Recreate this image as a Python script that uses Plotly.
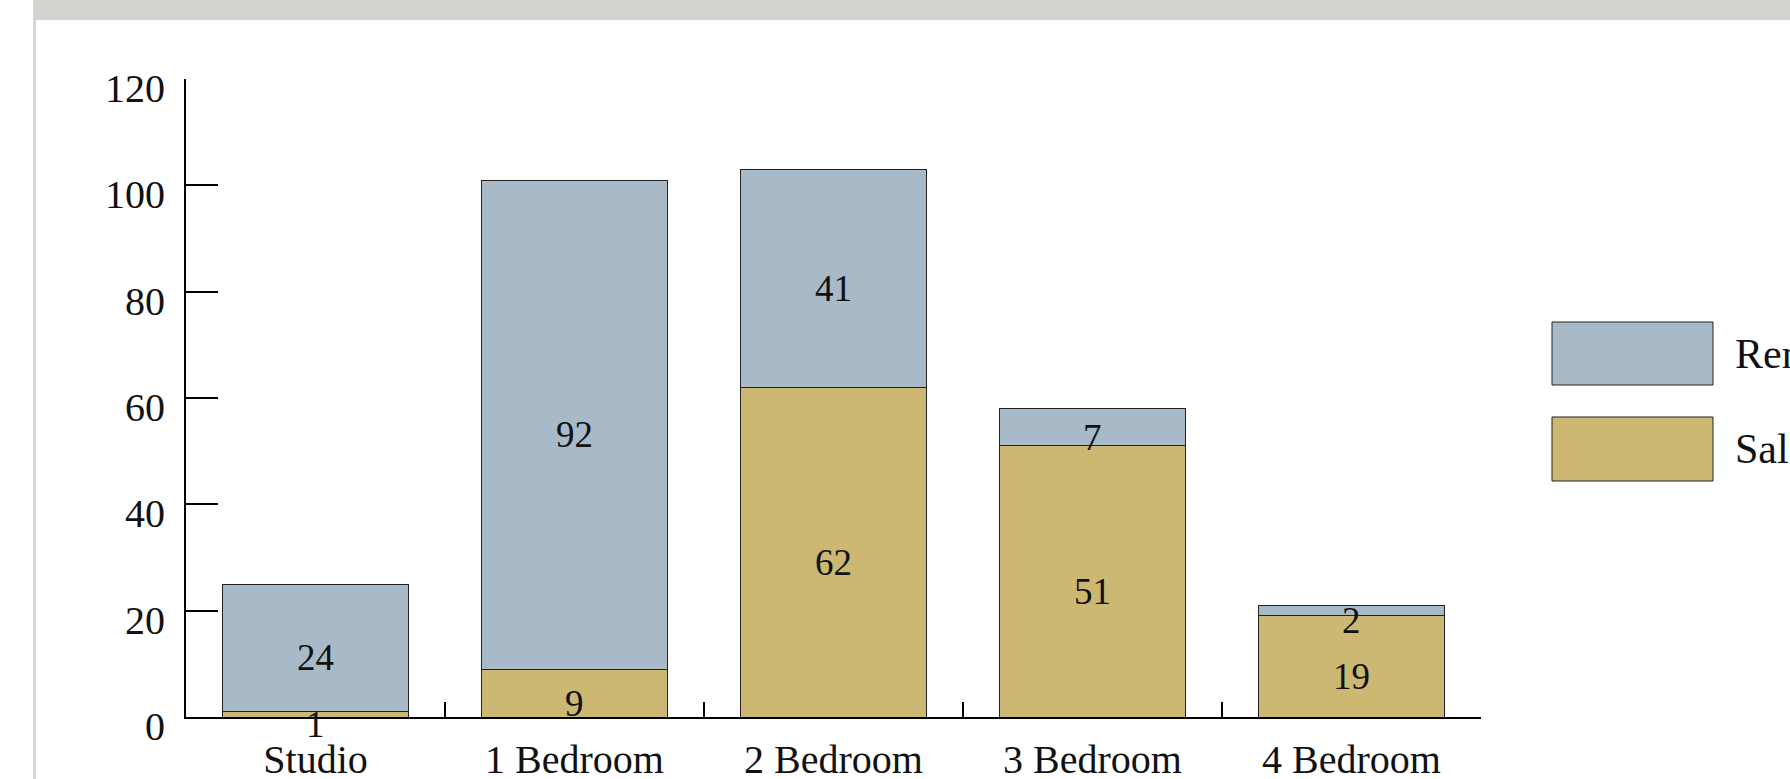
import plotly.graph_objects as go

# Units by unit type, split into sales and rentals
unit_types = ["Studio", "1 Bedroom", "2 Bedroom", "3 Bedroom", "4 Bedroom"]
sales = [1, 9, 62, 51, 19]
rentals = [24, 92, 41, 7, 2]
y_ticks = [0, 20, 40, 60, 80, 100, 120]

series_names = ["Rental", "Sales"]
rental_color = "#a8b9c7"
sales_color = "#ccb873"

W, H = 1790, 779
ML, MR, MT, MB = 186, 309, 79, 62
PW, PH = W - ML - MR, H - MT - MB

FONT = "Liberation Serif, Times New Roman, serif"
LABEL_SIZE = 37


def px_x(p):
    return (p - ML) / PW


def px_y(p):
    return (H - MB - p) / PH


fig = go.Figure()
fig.add_trace(go.Bar(
    x=unit_types, y=sales, name=series_names[1],
    marker=dict(color=sales_color, line=dict(color="#222", width=1)),
    showlegend=False, hoverinfo="x+y+name",
))
fig.add_trace(go.Bar(
    x=unit_types, y=rentals, name=series_names[0],
    marker=dict(color=rental_color, line=dict(color="#222", width=1)),
    showlegend=False, hoverinfo="x+y+name",
))

annotations = []
# value labels, placed in the middle of each stacked segment
for cat, s, r in zip(unit_types, sales, rentals):
    for base, val in ((0, s), (s, r)):
        annotations.append(dict(
            x=cat, y=base + val / 2, xref="x", yref="y",
            text=str(val), showarrow=False, yshift=-10,
            xanchor="center", yanchor="middle",
            font=dict(family=FONT, size=LABEL_SIZE, color="#111"),
        ))

shapes = [
    # page frame: top band and left edge
    dict(type="rect", xref="paper", yref="paper", layer="above",
         x0=px_x(33), x1=px_x(W + 5), y0=px_y(20), y1=px_y(-5),
         fillcolor="#d4d3cf", line=dict(width=0)),
    dict(type="rect", xref="paper", yref="paper", layer="above",
         x0=px_x(33), x1=px_x(36), y0=px_y(H + 5), y1=px_y(20),
         fillcolor="#d6d6d4", line=dict(width=0)),
]

# legend swatches with their labels
legend_rows = [(series_names[0], rental_color, 322, 385),
               (series_names[1], sales_color, 417, 481)]
for name, color, top, bottom in legend_rows:
    shapes.append(dict(type="rect", xref="paper", yref="paper",
                       x0=px_x(1552), x1=px_x(1713),
                       y0=px_y(bottom), y1=px_y(top),
                       fillcolor=color, line=dict(color="#222", width=1)))
    annotations.append(dict(xref="paper", yref="paper",
                            x=px_x(1733), y=px_y((top + bottom) / 2),
                            xanchor="left", yanchor="middle",
                            text=name, showarrow=False,
                            font=dict(family=FONT, size=42, color="#111")))

fig.update_layout(
    width=W, height=H,
    margin=dict(l=ML, r=MR, t=MT, b=MB, pad=0, autoexpand=False),
    barmode="stack", bargap=0.28,
    paper_bgcolor="white", plot_bgcolor="white",
    font=dict(family=FONT, size=38, color="#111"),
    shapes=shapes, annotations=annotations,
    showlegend=False,
)
fig.update_xaxes(
    type="category", tickson="boundaries", automargin=False,
    showline=True, linecolor="black", linewidth=2,
    ticks="inside", ticklen=15, tickwidth=2, tickcolor="black",
    showgrid=False, zeroline=False,
    tickfont=dict(family=FONT, size=40, color="#111"),
    ticklabelstandoff=6,
)
fig.update_yaxes(
    range=[0, 120], tickvals=y_ticks, automargin=False,
    showline=True, linecolor="black", linewidth=2,
    ticks="inside", ticklen=32, tickwidth=2, tickcolor="black",
    showgrid=False, zeroline=False,
    tickfont=dict(family=FONT, size=40, color="#111"),
    ticklabelstandoff=11, ticklabelshift=9,
)

fig.write_html("out.html")
